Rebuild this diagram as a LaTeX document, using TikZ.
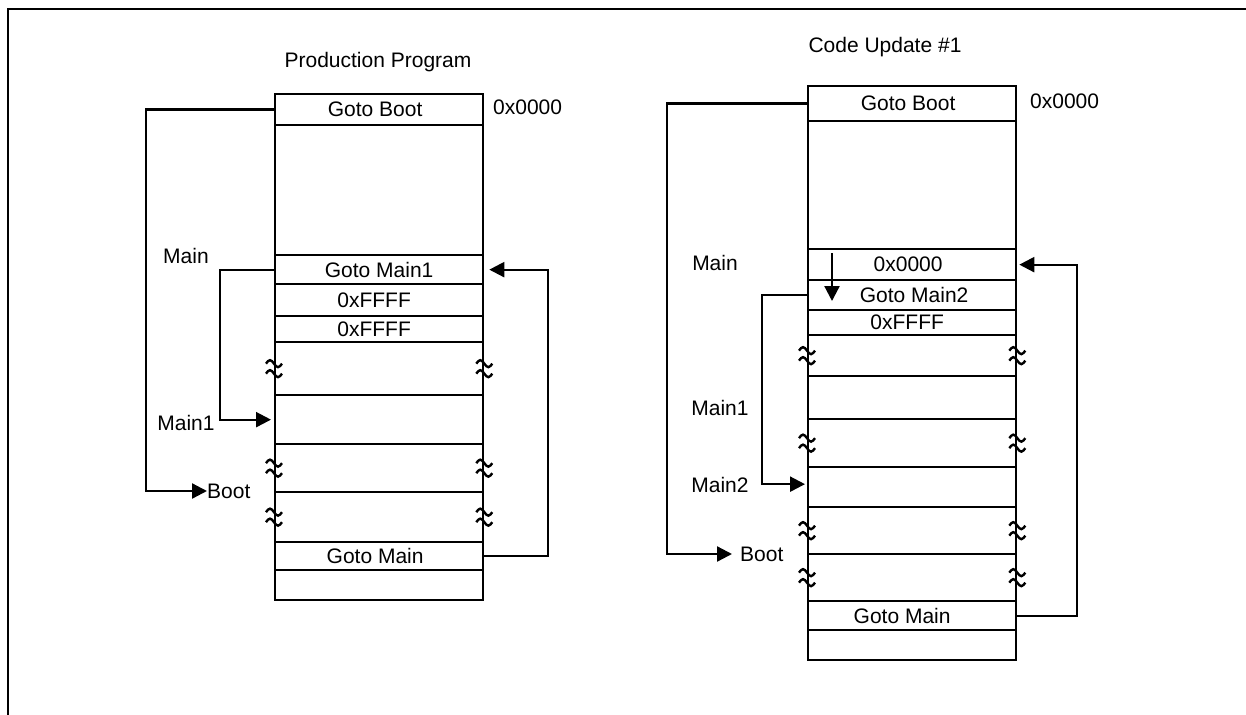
\documentclass[tikz,border=0pt]{standalone}
\usepackage{fontspec}
\setmainfont{Liberation Sans}
\usetikzlibrary{arrows.meta,calc}
\newcommand\fs{\fontsize{21}{25}\selectfont}
\begin{document}
\begin{tikzpicture}[x=1pt,y=-1pt,
  cell/.style={draw, line width=2.3pt, anchor=north west, minimum width=208pt, inner sep=0pt, font=\fs},
  lbl/.style={inner sep=0pt, font=\fs},
  conn/.style={line width=2.3pt},
  arr/.style={conn, -{Triangle[length=15pt,width=15pt]}},
  brk/.pic={
    \draw[line width=2.4pt] (-8,-5) sin (-4,-8.5) cos (0,-5) sin (4,-1.5) cos (8,-5);
    \draw[line width=2.4pt] (-8,5) sin (-4,1.5) cos (0,5) sin (4,8.5) cos (8,5);
  }]
\useasboundingbox (0,0) rectangle (1246,714);
% frame
\draw[line width=2.3pt] (8,720) -- (8,9) -- (1250,9);

% ---------- Production Program ----------
\node[lbl] (t1) at (378,62) {Production Program};
\node[cell, minimum height=31pt]  (L1)  at (274,93)  {Goto Boot\kern8pt};
\node[cell, minimum height=130pt] (L2)  at (274,124) {};
\node[cell, minimum height=29pt]  (L3)  at (274,254) {Goto Main1};
\node[cell, minimum height=32pt]  (L4)  at (274,283) {0xFFFF\kern10pt};
\node[cell, minimum height=26pt]  (L5)  at (274,315) {0xFFFF\kern10pt};
\node[cell, minimum height=53pt]  (L6)  at (274,341) {};
\node[cell, minimum height=49pt]  (L7)  at (274,394) {};
\node[cell, minimum height=48pt]  (L8)  at (274,443) {};
\node[cell, minimum height=50pt]  (L9)  at (274,491) {};
\node[cell, minimum height=28pt]  (L10) at (274,541) {Goto Main\kern8pt};
\node[cell, minimum height=30pt]  (L11) at (274,569) {};
\foreach \n in {L6,L8,L9}{
  \pic at (\n.west) {brk};
  \pic at (\n.east) {brk};
}
\node[lbl, anchor=west] (a1) at (493,107) {0x0000};
\node[lbl] (m0) at (186,256) {Main};
\node[lbl] (m1) at (186,423) {Main1};
\node[lbl, anchor=west] (b1) at (207,491) {Boot};

\draw[arr] (L1.west) -- ++(-128,0) |- (b1.west);
\draw[arr, shorten >=3pt] (L3.west) -- ++(-54,0) |- (L7.west);
\draw[arr, shorten >=5pt] (L10.east) -- ++(64,0) |- (L3.east);

% ---------- Code Update #1 ----------
\node[lbl] (t2) at (885,47) {Code Update \#1};
\node[cell, minimum height=35pt]  (R1)  at (807,85)  {Goto Boot\kern8pt};
\node[cell, minimum height=128pt] (R2)  at (807,120) {};
\node[cell, minimum height=31pt]  (R3)  at (807,248) {0x0000\kern8pt};
\node[cell, minimum height=30pt]  (R4)  at (807,279) {\kern4pt Goto Main2};
\node[cell, minimum height=25pt]  (R5)  at (807,309) {0xFFFF\kern10pt};
\node[cell, minimum height=41pt]  (R6)  at (807,334) {};
\node[cell, minimum height=43pt]  (R7)  at (807,375) {};
\node[cell, minimum height=48pt]  (R8)  at (807,418) {};
\node[cell, minimum height=40pt]  (R9)  at (807,466) {};
\node[cell, minimum height=47pt]  (R10) at (807,506) {};
\node[cell, minimum height=47pt]  (R11) at (807,553) {};
\node[cell, minimum height=29pt]  (R12) at (807,600) {Goto Main\kern20pt};
\node[cell, minimum height=30pt]  (R13) at (807,629) {};
\foreach \n in {R6,R8,R10,R11}{
  \pic at (\n.west) {brk};
  \pic at (\n.east) {brk};
}
\node[lbl, anchor=west] (a2) at (1030,101) {0x0000};
\node[lbl] (n0) at (715,263) {Main};
\node[lbl] (n1) at (720,408) {Main1};
\node[lbl] (n2) at (720,485) {Main2};
\node[lbl, anchor=west] (b2) at (740,554) {Boot};

\draw[arr] (R1.west) -- ++(-140,0) |- ([xshift=-8pt]b2.west);
\draw[arr, shorten >=2pt] (R4.west) -- ++(-45,0) |- ([yshift=3pt]R9.west);
\draw[arr, shorten >=2pt] (R12.east) -- ++(60,0) |- (R3.east);
\draw[arr] ($(R3.north west)+(25,5)$) -- ($(R3.north west)+(25,53)$);
\end{tikzpicture}
\end{document}
